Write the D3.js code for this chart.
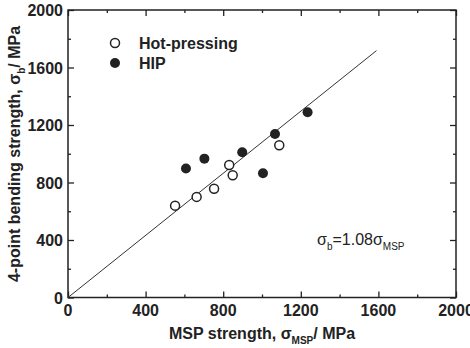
<!DOCTYPE html>
<html>
<head>
<meta charset="utf-8">
<script src="https://cdn.jsdelivr.net/npm/d3@7"></script>
<style>
body { margin: 0; background: #fff; }
text { font-family: "Liberation Sans", Arial, sans-serif; font-weight: bold; fill: #222; }
</style>
</head>
<body>
<svg width="470" height="348"></svg>
<script>
// data (MPa)
var hotX = [552, 663, 753, 831, 849, 1089];
var hotY = [639, 700, 757, 922, 850, 1059];
var hipX = [608, 703, 898, 1005, 1067, 1235];
var hipY = [897, 966, 1010, 864, 1138, 1289];
var fitSlope = 1.08, fitEnd = 1590;
var majorTicks = [0, 400, 800, 1200, 1600, 2000];
var minorTicks = [200, 600, 1000, 1400, 1800];

var svg = d3.select('svg');
var plotL = 68, plotR = 456, plotT = 10, plotB = 297.5;

var x = d3.scaleLinear().domain([0, 2000]).range([plotL, plotR]);
var y = d3.scaleLinear().domain([0, 2000]).range([plotB, plotT]);

// ticks pointing inward on all four sides
function ticks(axis, len, vals) {
    return axis.tickValues(vals).tickSize(len).tickFormat('');
}
var g = svg.append('g').attr('class', 'axes');
g.append('g').attr('transform', 'translate(0,' + plotB + ')').call(ticks(d3.axisTop(x), 6, majorTicks));
g.append('g').attr('transform', 'translate(0,' + plotB + ')').call(ticks(d3.axisTop(x), 3, minorTicks));
g.append('g').attr('transform', 'translate(0,' + plotT + ')').call(ticks(d3.axisBottom(x), 6, majorTicks));
g.append('g').attr('transform', 'translate(0,' + plotT + ')').call(ticks(d3.axisBottom(x), 3, minorTicks));
g.append('g').attr('transform', 'translate(' + plotL + ',0)').call(ticks(d3.axisRight(y), 6, majorTicks));
g.append('g').attr('transform', 'translate(' + plotL + ',0)').call(ticks(d3.axisRight(y), 3, minorTicks));
g.append('g').attr('transform', 'translate(' + plotR + ',0)').call(ticks(d3.axisLeft(y), 6, majorTicks));
g.append('g').attr('transform', 'translate(' + plotR + ',0)').call(ticks(d3.axisLeft(y), 3, minorTicks));
g.selectAll('.domain').remove();
g.selectAll('line').attr('stroke', '#222').attr('stroke-width', 1.3);

svg.append('rect')
    .attr('x', plotL).attr('y', plotT)
    .attr('width', plotR - plotL).attr('height', plotB - plotT)
    .attr('fill', 'none').attr('stroke', '#222').attr('stroke-width', 1.5);

// tick labels
svg.selectAll('.xl').data(majorTicks).enter().append('text')
    .attr('x', function(d) { return x(d); })
    .attr('y', 316)
    .attr('text-anchor', 'middle')
    .style('font-size', '16px')
    .text(function(d) { return d; });
svg.selectAll('.yl').data(majorTicks).enter().append('text')
    .attr('x', 63)
    .attr('y', function(d) { return y(d) + 6; })
    .attr('text-anchor', 'end')
    .style('font-size', '16px')
    .text(function(d) { return d; });

// fit line
svg.append('line')
    .attr('x1', x(0)).attr('y1', y(0))
    .attr('x2', x(fitEnd)).attr('y2', y(fitSlope * fitEnd))
    .attr('stroke', '#333').attr('stroke-width', 1);

// points
var hot = hotX.map(function(d, i) { return [d, hotY[i]]; });
var hip = hipX.map(function(d, i) { return [d, hipY[i]]; });

svg.selectAll('.hot').data(hot).enter().append('circle')
    .attr('cx', function(d) { return x(d[0]); })
    .attr('cy', function(d) { return y(d[1]); })
    .attr('r', 4.5)
    .attr('fill', '#fff').attr('stroke', '#222').attr('stroke-width', 1.5);
svg.selectAll('.hip').data(hip).enter().append('circle')
    .attr('cx', function(d) { return x(d[0]); })
    .attr('cy', function(d) { return y(d[1]); })
    .attr('r', 5)
    .attr('fill', '#222');

// legend
svg.append('circle').attr('cx', 115).attr('cy', 43).attr('r', 4.5)
    .attr('fill', '#fff').attr('stroke', '#222').attr('stroke-width', 1.5);
svg.append('circle').attr('cx', 115).attr('cy', 63).attr('r', 5).attr('fill', '#222');
svg.append('text').attr('x', 139).attr('y', 49).style('font-size', '16px').text('Hot-pressing');
svg.append('text').attr('x', 139).attr('y', 69).style('font-size', '16px').text('HIP');

// annotation
var ann = svg.append('text').attr('x', 317).attr('y', 245)
    .style('font-size', '16px').style('font-weight', 'normal');
ann.append('tspan').text('σ');
ann.append('tspan').attr('dy', 5).style('font-size', '10px').text('b');
ann.append('tspan').attr('dy', -5).text('=1.08σ');
ann.append('tspan').attr('dy', 5).style('font-size', '10px').text('MSP');

// axis titles
var xt = svg.append('text').attr('x', 262).attr('y', 339).attr('text-anchor', 'middle').style('font-size', '16px');
xt.append('tspan').text('MSP strength, σ');
xt.append('tspan').attr('dy', 5).style('font-size', '10px').text('MSP');
xt.append('tspan').attr('dy', -5).text('/ MPa');

var yt = svg.append('text')
    .attr('transform', 'translate(20,' + 154 + ') rotate(-90)')
    .attr('text-anchor', 'middle').style('font-size', '16px');
yt.append('tspan').text('4-point bending strength, σ');
yt.append('tspan').attr('dy', 5).style('font-size', '10px').text('b');
yt.append('tspan').attr('dy', -5).text('/ MPa');
</script>
</body>
</html>
